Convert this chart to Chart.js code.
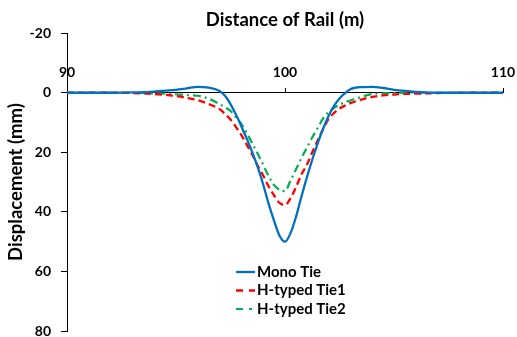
<!DOCTYPE html>
<html>
<head>
<meta charset="utf-8">
<script src="https://cdn.jsdelivr.net/npm/chart.js@4"></script>
<style>
  html, body { margin: 0; padding: 0; background: #fff; }
  #wrap { width: 517px; height: 337px; }
</style>
</head>
<body>
<div id="wrap"><canvas id="myChart"></canvas></div>
<script>
// distance along the rail (m)
const distance = [90, 91, 92, 93, 94, 94.5, 95, 95.5, 96, 96.5, 97,
  97.25, 97.5, 97.75, 98, 98.25, 98.5, 98.75, 99, 99.25, 99.5, 99.75, 100,
  100.25, 100.5, 100.75, 101, 101.25, 101.5, 101.75, 102, 102.25, 102.5, 102.75, 103,
  103.5, 104, 104.5, 105, 105.5, 106, 106.5, 107, 108, 109, 110];

// vertical displacement (mm), downward positive
const monoTie = [0, 0, 0, -0.1, -0.4, -0.7, -1.0, -1.5, -2.0, -1.7, -0.6,
  1.0, 3.8, 7.3, 11.3, 15.5, 20, 25, 30.8, 37.3, 43, 48, 50,
  47.2, 41.8, 35, 28.5, 22.5, 17, 12, 7.8, 4.4, 1.9, 0.2, -1.2,
  -1.9, -2.0, -1.6, -1.0, -0.6, -0.3, -0.1, 0, 0, 0, 0];

const hTie1 = [0, 0, 0, 0.1, 0.4, 0.7, 1.1, 1.7, 2.5, 3.8, 5.5,
  7.1, 9, 11.5, 14.2, 17.5, 20.8, 24.5, 27.8, 31.5, 34.5, 37, 37.7,
  35.5, 31.8, 27.5, 24.2, 20, 16, 12.2, 8.8, 6.8, 5.3, 4.3, 3.5,
  2.3, 1.4, 0.9, 0.6, 0.4, 0.3, 0.2, 0.1, 0, 0, 0];

const hTie2 = [0, 0, 0, 0, 0.2, 0.3, 0.5, 0.8, 1.0, 2.0, 3.8,
  4.9, 6.1, 8.2, 10.5, 13.6, 17, 20.5, 24.2, 28, 31, 32.6, 33,
  29.5, 25.8, 22, 18.5, 15, 11.8, 8.6, 6.5, 5.1, 4, 3.2, 2.6,
  1.4, 0.4, 0.2, 0.1, 0, 0, 0, 0, 0, 0, 0];

const seriesNames = ['Mono Tie', 'H-typed Tie1', 'H-typed Tie2'];
const xTicks = [90, 100, 110];
const yTicks = [-20, 0, 20, 40, 60, 80];

const FONT = 'Lato';

function toPoints(values) {
  return distance.map((d, i) => ({ x: d, y: values[i] }));
}

// legend drawn inside the plot, under the curves
const inlineLegend = {
  id: 'inlineLegend',
  afterDraw(chart, args, opts) {
    const ctx = chart.ctx;
    ctx.save();
    ctx.font = 'bold 15px ' + FONT;
    ctx.textBaseline = 'middle';
    chart.data.datasets.forEach((ds, i) => {
      const y = opts.top + i * opts.rowGap;
      ctx.strokeStyle = ds.borderColor;
      ctx.lineWidth = ds.borderWidth;
      ctx.setLineDash(opts.dashes[i]);
      ctx.beginPath();
      ctx.moveTo(opts.left, y);
      ctx.lineTo(opts.left + opts.sample, y);
      ctx.stroke();
      ctx.setLineDash([]);
      ctx.fillStyle = '#000';
      ctx.fillText(ds.label, opts.left + opts.sample + 2, y);
    });
    ctx.restore();
  }
};

const data = {
  datasets: [
    {
      label: seriesNames[0],
      data: toPoints(monoTie),
      borderColor: '#0070C0',
      borderWidth: 2.3
    },
    {
      label: seriesNames[1],
      data: toPoints(hTie1),
      borderColor: '#FF0000',
      borderWidth: 2.3,
      borderDash: [7, 4]
    },
    {
      label: seriesNames[2],
      data: toPoints(hTie2),
      borderColor: '#00B050',
      borderWidth: 2.2,
      borderDash: [8, 4, 2, 4]
    }
  ]
};

const tickFont = { family: FONT, size: 14, weight: 'bold' };
const titleFont = { family: FONT, size: 18.5, weight: 'bold' };

const config = {
  type: 'line',
  data: data,
  plugins: [inlineLegend],
  options: {
    responsive: true,
    maintainAspectRatio: false,
    animation: false,
    layout: { padding: { left: 0, right: 14, top: 0, bottom: 0 } },
    elements: {
      point: { radius: 0 },
      line: { cubicInterpolationMode: 'monotone', fill: false }
    },
    scales: {
      x: {
        type: 'linear',
        position: { y: 0 },
        min: xTicks[0],
        max: xTicks[xTicks.length - 1],
        ticks: {
          stepSize: xTicks[1] - xTicks[0],
          padding: -24,
          maxRotation: 0,
          color: '#000',
          font: tickFont
        },
        grid: { drawOnChartArea: false, drawTicks: true, tickLength: -5, color: '#000' },
        border: { color: '#000', width: 1 }
      },
      y: {
        type: 'linear',
        reverse: true,
        min: yTicks[0],
        max: yTicks[yTicks.length - 1],
        ticks: {
          stepSize: yTicks[1] - yTicks[0],
          padding: 10,
          color: '#000',
          font: tickFont
        },
        grid: { drawOnChartArea: false, drawTicks: true, tickLength: 6, color: '#000' },
        border: { color: '#000', width: 1 },
        title: {
          display: true,
          text: 'Displacement (mm)',
          color: '#000',
          font: titleFont,
          padding: { top: 5, bottom: 0 }
        },
        afterFit(scale) {
          scale.width = 67;
          scale.paddingTop = 0;
          scale.paddingBottom = 6;
        }
      }
    },
    plugins: {
      legend: { display: false },
      tooltip: { enabled: false },
      title: {
        display: true,
        fullSize: false,
        text: 'Distance of Rail (m)',
        color: '#000',
        font: titleFont,
        padding: { top: 9, bottom: 2 }
      },
      inlineLegend: {
        left: 236,
        top: 272,
        rowGap: 18.5,
        sample: 19,
        dashes: [[], [7, 6], [7, 6, 3, 6]]
      }
    }
  }
};

const myChart = new Chart(document.getElementById('myChart'), config);
</script>
</body>
</html>
